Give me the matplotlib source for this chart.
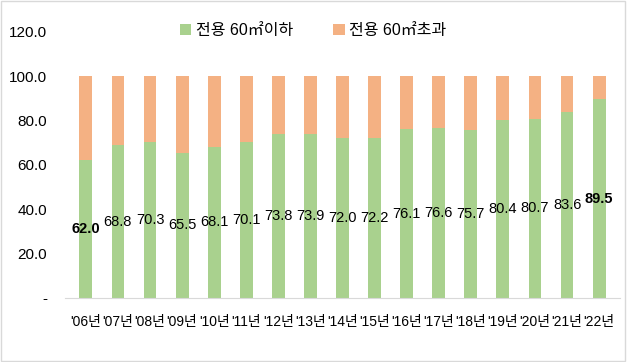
import matplotlib.pyplot as plt
import numpy as np

plt.rcParams['font.family'] = ['Liberation Sans', 'Noto Sans CJK KR']

years = ["'06년", "'07년", "'08년", "'09년", "'10년", "'11년", "'12년", "'13년", "'14년",
         "'15년", "'16년", "'17년", "'18년", "'19년", "'20년", "'21년", "'22년"]
small = [62.0, 68.8, 70.3, 65.5, 68.1, 70.1, 73.8, 73.9, 72.0,
         72.2, 76.1, 76.6, 75.7, 80.4, 80.7, 83.6, 89.5]
large = [round(100 - v, 1) for v in small]
yticks = [0, 20, 40, 60, 80, 100, 120]

fig = plt.figure(figsize=(6.27, 3.62), dpi=100)
ax = fig.add_axes([65 / 627, 64 / 362, 555 / 627, 266.4 / 362])

x = np.arange(len(years))
ax.bar(x, small, width=0.4, color='#A9D18E', label='전용 60㎡이하')
ax.bar(x, large, width=0.4, bottom=small, color='#F4B183', label='전용 60㎡초과')

for i, v in enumerate(small):
    bold = i == 0 or i == len(small) - 1
    ax.text(i, v / 2, f'{v:.1f}', ha='center', va='center', fontsize=10.5,
            fontweight='bold' if bold else 'normal', color='black')

ax.set_xlim(-0.65, len(years) - 0.35)
ax.set_ylim(0, 120)
ax.set_yticks(yticks)
ax.set_yticklabels(['-' if t == 0 else f'{t:.1f}' for t in yticks], fontsize=11)
ax.set_xticks(x)
ax.set_xticklabels(years, fontsize=10)
ax.tick_params(length=0, pad=12)
ax.tick_params(axis='y', pad=13)
for s in ['top', 'right', 'left']:
    ax.spines[s].set_visible(False)
ax.spines['bottom'].set_color('#D9D9D9')

fig.legend(loc='upper center', bbox_to_anchor=(0.5, 0.975), ncol=2, frameon=False,
           fontsize=11.5, handlelength=0.7, handleheight=0.7, handletextpad=0.3,
           columnspacing=2.5)

fig.patches.append(plt.Rectangle((0.002, 0.002), 0.995, 0.995, transform=fig.transFigure,
                                 fill=False, edgecolor='#D9D9D9', linewidth=1))

fig.savefig('out.png', dpi=100)
